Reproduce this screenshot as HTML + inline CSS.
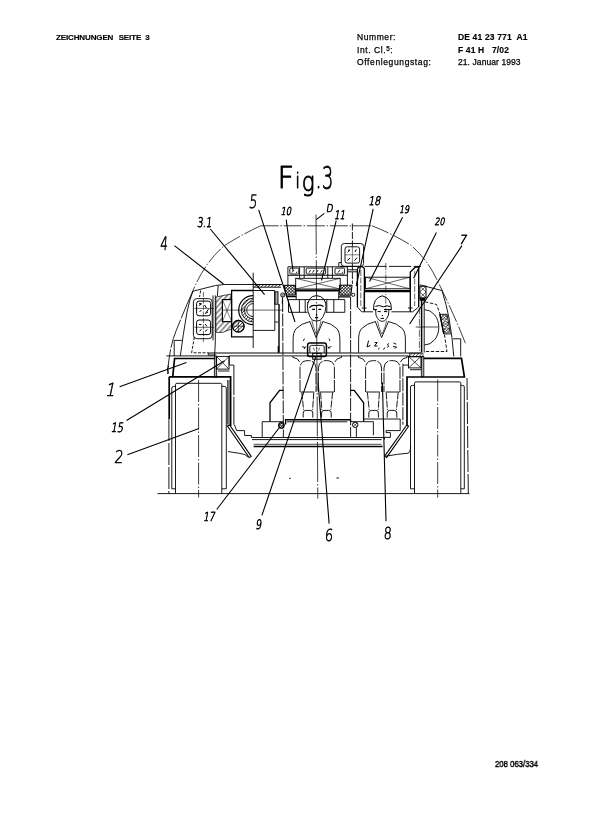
<!DOCTYPE html>
<html lang="de">
<head>
<meta charset="utf-8">
<title>DE 41 23 771 A1 – Zeichnungen Seite 3</title>
<style>
html,body{margin:0;padding:0;background:#fff;}
body{width:611px;height:827px;position:relative;overflow:hidden;font-family:"Liberation Sans",sans-serif;color:#000;}
.t{position:absolute;white-space:pre;font-size:8.5px;line-height:10px;-webkit-text-stroke:0.25px #000;will-change:transform;}
.b{font-weight:bold;-webkit-text-stroke:0.15px #000;}
#draw{position:absolute;left:0;top:0;width:611px;height:827px;}
#draw .s{stroke-width:0.9;}
#draw .m{stroke-width:1.1;}
#draw .k{stroke-width:1.7;}
#draw .d{stroke-width:0.85;stroke-dasharray:3.2 1.6;}
#draw .dd{stroke-width:0.85;stroke-dasharray:9 2.2;}
#draw .c{stroke-width:0.75;stroke-dasharray:9 1.5 1.2 1.5;}
#draw text{font-family:"DejaVu Sans","Liberation Sans",sans-serif;font-weight:200;fill:#000;stroke:#000;stroke-linejoin:round;}
</style>
</head>
<body>
<div class="t b" style="left:55.8px;top:32.9px;font-size:8px;letter-spacing:-0.13px;word-spacing:3.3px;">ZEICHNUNGEN SEITE<span style="margin-left:-1.3px"> 3</span></div>
<div class="t" style="left:357.3px;top:32.1px;letter-spacing:0.58px;">Nummer:</div>
<div class="t" style="left:357.3px;top:44.5px;letter-spacing:0.58px;">Int. Cl.<span style="font-size:6.4px;position:relative;top:-2.4px;">5</span>:</div>
<div class="t" style="left:357.3px;top:56.8px;letter-spacing:0.62px;">Offenlegungstag:</div>
<div class="t b" style="left:457.8px;top:32.1px;letter-spacing:0.15px;">DE 41 23 771  A1</div>
<div class="t b" style="left:458px;top:44.5px;letter-spacing:0.15px;">F 41 H   7/02</div>
<div class="t" style="left:458px;top:56.8px;letter-spacing:0.08px;">21. Januar 1993</div>
<div class="t" style="left:494.6px;top:759.4px;font-size:8.6px;-webkit-text-stroke:0.45px #000;transform:scaleX(0.9);transform-origin:0 0;">208 063/334</div>
<svg id="draw" viewBox="0 0 611 827" width="611" height="827" fill="none" stroke="#000" stroke-linecap="butt" stroke-linejoin="miter">
<defs>
<pattern id="h1" width="2.4" height="2.4" patternUnits="userSpaceOnUse" patternTransform="rotate(-45)"><line x1="0" y1="1.2" x2="2.4" y2="1.2" stroke="#000" stroke-width="0.6"/></pattern>
<pattern id="h2" width="2.2" height="2.2" patternUnits="userSpaceOnUse" patternTransform="rotate(45)"><path d="M0 1.1H2.2M1.1 0V2.2" stroke="#000" stroke-width="0.6"/></pattern>
<pattern id="h3" width="1.5" height="1.5" patternUnits="userSpaceOnUse"><line x1="0" y1="0.75" x2="1.5" y2="0.75" stroke="#000" stroke-width="0.5"/></pattern>
<pattern id="h4" width="3.8" height="3.8" patternUnits="userSpaceOnUse" patternTransform="rotate(-48)"><line x1="0" y1="1.9" x2="3.8" y2="1.9" stroke="#000" stroke-width="0.8"/></pattern>
</defs>
<!-- figure title and reference numerals -->
<g id="labels">
<text transform="translate(277.6 187.8) scale(0.8 1)" font-size="30" stroke-width="0.9" x="0" y="0"><tspan textLength="20.7" lengthAdjust="spacingAndGlyphs">F</tspan><tspan font-size="22" dx="1.4" dy="-0.3">i</tspan><tspan font-size="27" dx="2" dy="3.6">g</tspan><tspan font-size="24" dx="1" dy="-3">.</tspan><tspan font-size="32" dx="0.4" dy="0.6" textLength="14" lengthAdjust="spacingAndGlyphs">3</tspan></text>
<g stroke-width="0.6">
<text transform="translate(160 249.6) scale(0.64 1) skewX(-6)" font-size="18.5">4</text>
<text transform="translate(248.4 208.4) scale(0.7 1) skewX(-10)" font-size="18.5">5</text>
<text transform="translate(105 396.4) scale(0.85 1) skewX(-14)" font-size="18">1</text>
<text transform="translate(114 463.4) scale(0.8 1) skewX(-8)" font-size="17.5">2</text>
<text transform="translate(324.4 540.8) scale(0.78 1) skewX(-6)" font-size="16.5">6</text>
<text transform="translate(383.4 538.8) scale(0.76 1) skewX(-4)" font-size="16.5">8</text>
<text transform="translate(458.6 243.8) scale(0.95 1) skewX(-14)" font-size="12.5" stroke-width="0.7">7</text>
</g>
<g stroke-width="0.75">
<text transform="translate(197 227) scale(0.68 1) skewX(-10)" font-size="13.4">3.1</text>
<text transform="translate(280.6 214.5) scale(0.76 1) skewX(-14)" font-size="10.9">10</text>
<text transform="translate(326 211.9) scale(0.8 1) skewX(-10)" font-size="10.9">D</text>
<text transform="translate(334 219) scale(0.72 1) skewX(-14)" font-size="11.9">11</text>
<text transform="translate(368.3 205.2) scale(0.78 1) skewX(-14)" font-size="11.9">18</text>
<text transform="translate(399 212.6) scale(0.76 1) skewX(-14)" font-size="10.4">19</text>
<text transform="translate(434.6 224.8) scale(0.78 1) skewX(-14)" font-size="9.9">20</text>
<text transform="translate(110.6 432.2) scale(0.76 1) skewX(-14)" font-size="12.9">15</text>
<text transform="translate(203 521.4) scale(0.74 1) skewX(-14)" font-size="12.4">17</text>
<text transform="translate(255.3 528.6) scale(0.74 1) skewX(-10)" font-size="12.9">9</text>
</g>
<g class="m">
<path d="M174.4 245.6L223.5 284M210.3 229L264.6 294.6M258.7 209.8L295 322M286.2 219.6L293 270.7M324.4 213.4L316.2 219.6M336.2 220.6L321.5 280.5M373.2 208.8L356.2 286M402.6 217.3L369.6 281.5M436.4 232.4L413.6 278.2M462 245.6L409.6 324"/>
<path d="M119.6 386.8L186.4 362.6M126.5 420.5L224.6 360.7M127.4 454.8L199 428.5M216.7 509.5L279 428M261.9 515.4L315.7 356.9M329.1 523.6L318.2 383.4M386 521.3L382.4 382.4"/>
</g>
</g>
<!-- turret swing envelope (long-dash) -->
<g id="envelope" stroke-width="0.75" stroke-dasharray="18 1.8 1.5 1.8">
<path d="M260.6 225.8H372"/>
<path d="M260.6 225.8Q241 235 224.4 245.6Q205 262 193 290.5"/>
<path d="M193 290.5Q184 311 176.2 330.6Q169 348 167.6 374" stroke-dasharray="30 1.5" stroke-width="0.85"/>
<path d="M372 225.8Q393 234 410.9 245.2Q427 259 436.4 278.6Q448 302 458.8 327L465.6 343.7"/>
</g>
<!-- centre lines -->
<g id="centre" class="c">
<path d="M316 214.5L317.8 498.6" stroke-dasharray="40 2 1.5 2"/>
<path d="M198.6 380V497.5M437.7 379.5V497.6" stroke-dasharray="22 2 1.5 2"/>
</g>
<!-- ground -->
<path class="s" d="M157.5 493.6H469.5"/>
<!-- hull upper outline -->
<g id="hull" class="s">
<path d="M282 284.5H224L215.5 285.5L192.6 291.3"/>
<path d="M192.8 291.5Q189.5 300 187 312Q183 335 180.3 356"/>
<path d="M419.8 284.8L442 290.6"/>
<path d="M442 290.6Q446.5 305 449 318Q452.5 338 453.8 356.4"/>
<path d="M174.2 356V340.4H181.9"/>
<path d="M460.7 356.4V338.8H452.9"/>
<path d="M166.4 355.9H215"/>
<path d="M208.3 353H421" stroke-width="1"/>
<path d="M229.2 355.9H408.6"/>
</g>
<!-- track guards (1) -->
<g id="guards" class="k">
<path d="M215.2 358.5H174.6L172.7 376.8H215.2"/>
<path d="M215.2 376.8H230.6V426"/>
<path d="M169.2 376.8V419M169.2 376.8H172.7"/>
<path d="M423.6 358.4H461.5L464.4 377H423.6"/>
<path d="M423.6 377H407V426"/>
</g>
<path d="M167.6 365.5q1.4 1 .2 2.4q-1.2 1.6 .2 3.2q1 1.4 -.2 3" stroke-width="1"/>
<!-- tracks (2) -->
<g id="tracks" class="s">
<path d="M175.5 493.4V384.6Q175.5 383.3 177 383.3H220.4Q221.8 383.3 221.8 384.6V493.4"/>
<path d="M175.5 488.8H171.8V388Q171.8 386.4 173.6 386.4H175.5"/>
<path d="M221.8 488.8H226.3V388Q226.3 386.4 224.2 386.4H221.8"/>
<path d="M168.9 419V493.5" stroke-dasharray="22 2"/>
<path d="M414.5 493.2V383.2Q414.5 381.9 416 381.9H459.4Q460.8 381.9 460.8 383.2V493.2"/>
<path d="M414.5 488.8H410.5V387Q410.5 385.4 412.4 385.4H414.5"/>
<path d="M460.8 488.8H464.3V387Q464.3 385.4 462.6 385.4H460.8"/>
<path d="M467 378L468.3 493.5" stroke-dasharray="22 2"/>
</g>
<!-- slip-ring / rotary unit (10, 11) on the roof -->
<g id="unit10" class="s">
<path d="M287.9 285.2V266.8H347.4V285.2"/>
<path d="M287.9 275.3H347.4" stroke-width="1.1"/>
<path d="M299.6 266.8V278M304.2 266.8V278M327.8 266.8V278M332.4 266.8V278"/>
<rect x="289.8" y="268.1" width="9" height="5.9" rx="1"/>
<rect x="306.2" y="268.1" width="19.4" height="5.9" rx="1"/>
<rect x="335" y="268.1" width="9.6" height="5.9" rx="1"/>
<path d="M292 272.5l2-2.5M296 272.8l1.2-1M309 272.6l1.6-2.6M312.5 272.6l1.6-2.6M316.5 272.6l1.6-2.6M320.5 272.6l2-2.6M338 272.5l2-2.5M342 272.8l1.2-1" stroke-width="0.9"/>
<rect x="295.7" y="278.3" width="44.5" height="10.7"/>
<path d="M295.7 278.3L340.2 289M295.7 289L340.2 278.3" stroke-width="0.6"/>
<path d="M295 290.5H340.2" stroke-width="2"/>
</g>
<!-- bearing blocks (5), cross hatched -->
<g id="bearing5" class="s">
<path d="M283.9 285.3H295.4V295.1H286.4Z" fill="url(#h2)" stroke-width="1"/>
<path d="M339.4 285.2H352.1L350.8 295.2H339.8Z" fill="url(#h2)" stroke-width="1"/>
<circle cx="282.8" cy="295" r="2.1"/>
<path d="M281.4 293.6l2.8 2.8M284.2 293.6l-2.8 2.8" stroke-width="0.5"/>
<circle cx="353.2" cy="294.8" r="1.6"/>
<path d="M286 296.6H296.2M338.7 296.8H350" stroke-width="1.2"/>
<path d="M296.2 291.6V299.2M338.7 291.6V299.2"/>
</g>
<!-- box 18 -->
<g id="box18" class="s">
<rect x="341.3" y="243.5" width="22.3" height="22.9" rx="3"/>
<rect x="345" y="246.8" width="14.6" height="16.3" rx="2.2" stroke-width="0.9"/>
<path d="M352.4 246.8V263.1M345 254.8H359.6" stroke-width="0.5"/>
<path d="M347.5 252.3l2.5-2.4M348 250.2h2M355 252l1.3-2.6M347.3 260.6l2.8-2.6M354.5 260.6l2.6-3" stroke-width="1"/>
<path d="M352.4 223.5V246.5M352.4 263.5V284" stroke-dasharray="7 1.5"/>
<path d="M338.8 266.4v-3.8h2.5"/>
<path d="M347.4 269.8H357M347.4 271.8H357"/>
</g>
<!-- unit 19 with flanges (20) -->
<g id="unit19" class="s">
<path d="M340 266.4H421" stroke-dasharray="22 2.5"/>
<path d="M357.4 307V270Q357.6 266.6 361 266.6Q364.4 266.6 364.4 270V307" stroke-width="1.3"/>
<path d="M360.8 270V306" stroke-dasharray="6 1.5" stroke-width="0.6"/>
<path d="M410.3 311.8V272L415.6 267H418.7V307" stroke-width="1.3"/>
<path d="M414.7 271V306" stroke-dasharray="6 1.5" stroke-width="0.6"/>
<rect x="365.5" y="277.2" width="44.5" height="11.6"/>
<path d="M365.5 277.2L410 288.8M365.5 288.8L410 277.2" stroke-width="0.6"/>
<path d="M364.4 291.2H410.3" stroke-width="2.3"/>
<path d="M385.8 263V312" stroke-dasharray="7 1.5 1.2 1.5" stroke-width="0.6"/>
</g>
<!-- left hand equipment: box (4), drive (3.1) -->
<g id="box4" class="s">
<rect x="193.4" y="298.6" width="18.8" height="40.1" rx="3.5"/>
<rect x="196.6" y="301.1" width="14" height="14.7" rx="2.4" stroke-width="1"/>
<rect x="196.6" y="320" width="14" height="14.6" rx="2.4" stroke-width="1"/>
<path d="M203.4 292V342" stroke-dasharray="5 1.5" stroke-width="0.6"/>
<path d="M194.5 308.4H214M194.5 327.3H214" stroke-width="0.6"/>
<path d="M199 305.5l2.6-1.6M199 303.6h2.4M204.5 305l2 3M206 312.5l2.6-3.4M205 313.5l3-1.5M199.5 312l2-2M199 324.5h2.5M205 324l2 2.4M205 331.5l2.4-2M199.5 331l2-1.6" stroke-width="1"/>
<path d="M200.7 290.5L199.5 297M194.4 337L191.6 352.8H208.4" stroke-dasharray="3 1.5"/>
<path d="M213 295.4V340.4M215.3 295.4V340.4" stroke-width="0.9"/>
<path d="M218.2 285.5L217.4 296M215.4 340.4L214.6 356"/>
</g>
<g id="drive31" class="s">
<path d="M215.9 297L230.9 294.1V299.6H222.4V321.6H231.6V329L222.5 332.4H215.9Z" fill="url(#h4)" stroke-width="0.7"/>
<rect x="222.4" y="299.6" width="9.2" height="22" stroke-width="1.1"/>
<path d="M222.4 299.6L231.6 321.6M231.6 299.6L222.4 321.6" stroke-width="0.5"/>
<path d="M253.2 290.5H231.6V336.9H253.2" stroke-width="1.3"/>
<path d="M253.2 272.7V348"/>
<path d="M253.2 290.5H274.8V330.4H253.2"/>
<path d="M222.4 310.1H283" stroke-width="0.6"/>
<path d="M253.2 295.6A14.5 14.5 0 0 0 253.2 324.6" stroke-width="1.2"/>
<path d="M253.2 298.2A11.9 11.9 0 0 0 253.2 322"/>
<path d="M253.2 301.4A8.7 8.7 0 0 0 253.2 318.8"/>
<path d="M253.2 303.6A6.5 6.5 0 0 0 253.2 316.6"/>
<path d="M253.2 298.2A11.9 11.9 0 0 0 253.2 322V318.8A8.7 8.7 0 0 1 253.2 301.4Z" fill="url(#h1)" stroke="none"/>
<circle cx="238.3" cy="326.2" r="5.8" fill="#fff"/>
<circle cx="238.3" cy="326.2" r="5.8" fill="url(#h1)" stroke-width="1.1"/>
<path d="M231.5 326.2H245M238.3 319.4V333" stroke-width="0.6"/>
<path d="M253.2 284.6H281M253.2 287.2H281"/>
<path d="M253.2 284.6H281V287.2H253.2Z" fill="url(#h1)" stroke="none"/>
<rect x="274.8" y="291.8" width="3.2" height="12.4" fill="url(#h3)"/>
<path d="M279 304V352.5" stroke-width="1.4"/>
<path d="M282.4 296.5V304"/>
<path d="M274.8 322H278"/>
</g>
<!-- right hand side: bearing, half-round unit (7) -->
<g id="right7" class="s">
<rect x="419.8" y="286.2" width="6.2" height="11.6" stroke-width="1"/>
<path d="M419.8 286.2l6.2 5.8l-6.2 5.8M426 286.2l-6.2 5.8l6.2 5.8" stroke-width="0.6"/>
<path d="M419.6 299.4H425.4" stroke-width="2.8"/>
<path d="M421.6 298.5V352.6" stroke-width="1.5"/>
<path d="M424.2 299.2V352.6"/>
<path d="M419.4 307.5V352" stroke-dasharray="7 1.5 1.2 1.5" stroke-width="0.6"/>
<path d="M424.4 309.6A14.4 17.7 0 0 1 424.4 345"/>
<path d="M415.7 327H438.6" stroke-width="0.7"/>
<path d="M424.9 301.8L436.6 304.5L441.4 318M444.4 334.5L447 351.5H424.4" stroke-dasharray="3.4 1.6"/>
<path d="M439.9 314.3H447.1L450.4 333.9H443.8Z"/>
<path d="M439.9 314.3L443.8 333.9" stroke-width="1.5"/>
<circle cx="444.4" cy="317.6" r="2.6" stroke-width="0.7"/><circle cx="445.5" cy="324" r="2.6" stroke-width="0.7"/><circle cx="446.6" cy="330.4" r="2.6" stroke-width="0.7"/>
<path d="M442.6 315.8l3.6 3.6m0-3.6l-3.6 3.6M443.7 322.2l3.6 3.6m0-3.6l-3.6 3.6M444.8 328.6l3.6 3.6m0-3.6l-3.6 3.6" stroke-width="0.6"/>
<path d="M409.5 353.2H423V357H409.5Z" fill="url(#h1)" stroke-width="0.6"/>
</g>
<!-- crew compartment and the two crew members -->
<defs>
<g id="torso">
<path d="M-6.6 321.6Q-15 323.2 -20.6 328.8Q-23.6 332.5 -23.4 341V352.6"/>
<path d="M6.6 321.6Q15 323.2 20.6 328.8Q23.6 332.5 23.4 341V352.6"/>
<path d="M-6.8 321.2L-0.4 337.6L6.6 321.2"/>
<path d="M-4.6 320.6L-3.2 326.5L-0.4 334M4.6 320.6L3.2 326.5L0.2 334" stroke-width="0.6"/>
</g>
<g id="legs">
<path d="M-24.4 356V357.4Q-19 358 -17.6 362"/>
<path d="M24.4 356V357.4Q19 358 17.6 362"/>
<path d="M-17.2 392V368Q-17 360.6 -9.2 360.6Q-1.4 360.6 -1.2 368V392" stroke-dasharray="12 1.2"/>
<path d="M17.2 392V368Q17 360.6 9.2 360.6Q1.4 360.6 1.2 368V392" stroke-dasharray="12 1.2"/>
<path d="M-16.8 392H-3M16.8 392H3"/>
<path d="M-15.4 392.4L-13.6 409.8M-3.4 392.4L-4.6 409.8M15.4 392.4L13.6 409.8M3.4 392.4L4.6 409.8" stroke-dasharray="7 1.2"/>
<path d="M-14 417.6V413Q-14 410.4 -11.4 410.4H-6.8Q-4.4 410.4 -4.4 413V417.6"/>
<path d="M14 417.6V413Q14 410.4 11.4 410.4H6.8Q4.4 410.4 4.4 413V417.6"/>
</g>
</defs>
<g id="crew" class="s">
<use href="#torso" transform="translate(316.5 0)"/>
<use href="#torso" transform="translate(382 0)"/>
<use href="#legs" transform="translate(317.2 0)"/>
<use href="#legs" transform="translate(382.8 0)"/>
<!-- head 1 (bare) -->
<path d="M307.8 302Q307 307 308 311.4Q309.6 317.6 312.4 320.2Q316.4 322 320.4 320.2Q323.4 317.6 325.2 311.4Q326.4 307 325.6 302"/>
<path d="M308 303Q309 298.4 312.4 296.6Q316.4 294.6 320.6 296.6Q324.6 298.6 325.6 303" stroke-width="1"/>
<path d="M309.4 307.6Q312 304.6 316 305.6Q320 304.4 323.6 306.4" stroke-width="1.1"/>
<path d="M312.2 309.4H315M318.4 309.4H321.2M315.8 314.8H317.2M315 317.6H318.2" stroke-width="1.2"/>
<!-- head 2 (helmet) -->
<path d="M373.6 309.6Q373 298 382.2 295.8Q391.6 298 391.4 309.6" stroke-width="1"/>
<path d="M373 309.6H377M384 309.6H391.6M375.4 306.4Q379 304.6 383.4 306.8Q387 305 390.4 306.6" stroke-width="1"/>
<path d="M375.6 310Q375.4 316 377.6 318.6Q380 321.4 382.2 321.4Q384.6 321.4 386.8 318.6Q389 316 389 310"/>
<path d="M377.6 311.6H380.8M384 311.6H387.2M381.8 315.6H383M380.6 318.4H384" stroke-width="1"/>
<!-- control unit in front of crew 1 -->
<rect x="307.6" y="343" width="18.8" height="13.4" rx="2.2" stroke-width="1.5"/>
<path d="M309.8 353V347Q309.8 345.4 311.4 345.4H322.6Q324.2 345.4 324.2 347V353"/>
<rect x="312.7" y="353.3" width="8.4" height="5.9" stroke-width="1"/>
<path d="M313.4 347.6l1 3M319.6 347.6l-1 3M316.6 346.5v5" stroke-width="0.6"/>
<path d="M303.4 341l1 -2.4M302 346.6l3.4 1M304 349l1.6-2.4M330 341l-1-2.4M331.4 346.6l-3.4 1M329.4 349l-1.6-2.4" stroke-width="0.9"/>
<!-- hands crew 2 -->
<path d="M368.6 340.5l-1.6 6.4l3.4-1.4M374.6 342.6h2.6l-2.8 3.4h3M378 349.4l1.6-1.4M388.8 343.6q-2 .4-.8 1.8q1.6 1.2-.8 2M393.6 343l2.6 1.2M393 346.6l3.6.4l-1.6 1.6M384.6 347.6l-1 2" stroke-width="1"/>
</g>
<!-- compartment walls / seat row -->
<g id="compartment" class="s">
<path d="M288.5 299.6H344.8V312.3H325.6M307.6 312.3H288.5V299.6"/>
<path d="M299.4 299.6V312.3M305.2 299.6V312.3M326.8 299.6V312.3M333.8 299.6V312.3"/>
<path d="M282.6 299L283.4 437" stroke-dasharray="13 1.5"/>
<path d="M350.6 296.5V437" stroke-dasharray="13 1.5"/>
<path d="M357.4 307L361.6 311.8H373M391.4 311.8H412.6L418.7 307"/>
<path d="M361.8 308H366.6M408 308H412.6"/>
<path d="M364.4 292V311.8" stroke-width="1.3"/>
</g>
<!-- lower hull, bearings (15), floor, seat brackets -->
<g id="lower" class="s">
<!-- left bearing 15 -->
<rect x="216.4" y="356.4" width="12.6" height="12.7"/>
<path d="M216.4 356.4L229 369.1M229 356.4L216.4 369.1" stroke-width="0.7"/>
<path d="M214.4 356.4H216.6V377.4H214.4Z" fill="url(#h3)" stroke-width="0.8"/>
<path d="M208.3 353V355H216.4M218 371H229.5M229.5 365.1H233.9M229.2 355.9V365.1"/>
<path d="M233.9 365.1V424.7" stroke-dasharray="30 1.5"/>
<!-- right bearing -->
<rect x="408.5" y="356.5" width="12.5" height="11.4"/>
<path d="M408.5 356.5L421 367.9M421 356.5L408.5 367.9" stroke-width="0.7"/>
<path d="M421.4 356.4H423.8V377H421.4Z" fill="url(#h3)" stroke-width="0.8"/>
<path d="M410 369.7H421M403 365.1H408.5"/>
<path d="M402.9 363.7V424.7" stroke-dasharray="13 1.5"/>
<!-- side walls with ticked strip -->
<path d="M227.8 380V424.5"/>
<path d="M227.8 380H230.5V424.5H227.8Z" fill="url(#h3)" stroke="none"/>
<!-- stepped inner floor -->
<path d="M234.4 424.7L236.7 430.6H244.6V435.5H251.4V437.5H384.5"/>
<path d="M363.6 419H400.2V430.6H386V432.6H390.4V437.4H384.5V439.6"/>
<path d="M252 439.6H381.6"/>
<path d="M253.6 444.3H381.6" stroke-width="0.7"/>
<path d="M253.6 446.5H382.6" stroke-width="1.6"/>
<!-- chamfer plates -->
<path d="M227.4 426L249.2 457.6L251.2 456.4L229.6 425Z" stroke-width="1.1"/>
<path d="M406.8 425L384.6 456.2L386.6 457.4L408.6 426.2Z" stroke-width="1.1"/>
<path d="M228 451.5Q234 452.6 240 453.4T248 457"/>
<path d="M385.6 456.2Q398 454 408 453.2Q410.6 452.6 410.6 446"/>
<!-- floor plate -->
<path d="M285.6 424.6V419.8H349.8L351.2 421.7" stroke-width="1.4"/>
<path d="M287 421.8H347.4"/>
<!-- seat brackets -->
<path d="M283.3 390.4H279.6L270 402.8V421.4" stroke-width="1.3"/>
<path d="M350.6 390.4H354.2L363.6 402.8V421.4" stroke-width="1.3"/>
<path d="M262.2 437.5V421.7H283.3"/>
<path d="M350.6 421.7H373.4V435.3M356.4 427.5V437.5"/>
<circle cx="281.4" cy="425.4" r="2.7" fill="url(#h2)" stroke-width="1.3"/>
<circle cx="355.2" cy="424.8" r="2.7" stroke-width="1"/>
<path d="M353.4 423l3.6 3.6M357 423l-3.6 3.6" stroke-width="0.6"/>
<path d="M278.4 346V353" stroke-width="1.4"/>
<path d="M289 478.4h1.6M336.4 478h2.6" stroke-width="0.9"/>
</g>
</svg>
</body>
</html>
